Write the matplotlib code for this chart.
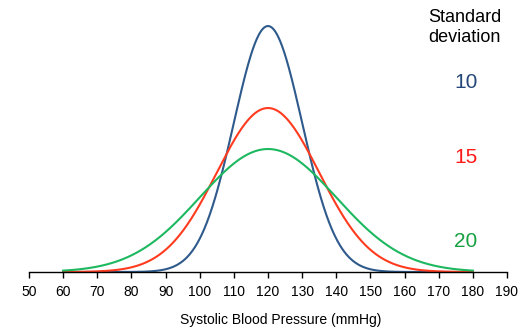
import numpy as np
import matplotlib.pyplot as plt

plt.rcParams['font.family'] = ['Liberation Sans', 'DejaVu Sans']

# Normal curves of systolic blood pressure
mean_bp = 120
sds = [10, 15, 20]
line_colors = ['#2f5a8c', '#ff3b1f', '#1db860']
label_colors = ['#24477a', '#ff1a1a', '#17a040']
label_y = [0.0308, 0.0185, 0.0050]
x_ticks = list(range(50, 200, 10))

x = np.linspace(60, 180, 600)

fig = plt.figure(figsize=(5.25, 3.34), dpi=100)
ax = fig.add_axes([29 / 525, 62 / 334, 478 / 525, 262 / 334])

for sd, c in zip(sds, line_colors):
    y = np.exp(-0.5 * ((x - mean_bp) / sd) ** 2) / (sd * np.sqrt(2 * np.pi))
    ax.plot(x, y, color=c, linewidth=1.5, clip_on=False)

ax.set_xlim(50, 190)
ax.set_ylim(0, 0.0399 * 262 / 246)

for sd, c, yy in zip(sds, label_colors, label_y):
    ax.text(178, yy, str(sd), color=c, fontsize=15, ha='center', va='center')
ax.text(177.6, 0.0397, 'Standard\ndeviation', fontsize=13, ha='center', va='center',
        linespacing=1.2)

for s in ['top', 'right', 'left']:
    ax.spines[s].set_visible(False)
ax.spines['bottom'].set_linewidth(1.0)
ax.set_yticks([])
ax.set_xticks(x_ticks)
ax.tick_params(axis='x', direction='out', length=4, width=1, labelsize=10, pad=5)
ax.set_xlabel('Systolic Blood Pressure (mmHg)', fontsize=10)
ax.xaxis.set_label_coords(0.527, -0.155)

fig.savefig('out.png', dpi=100)
